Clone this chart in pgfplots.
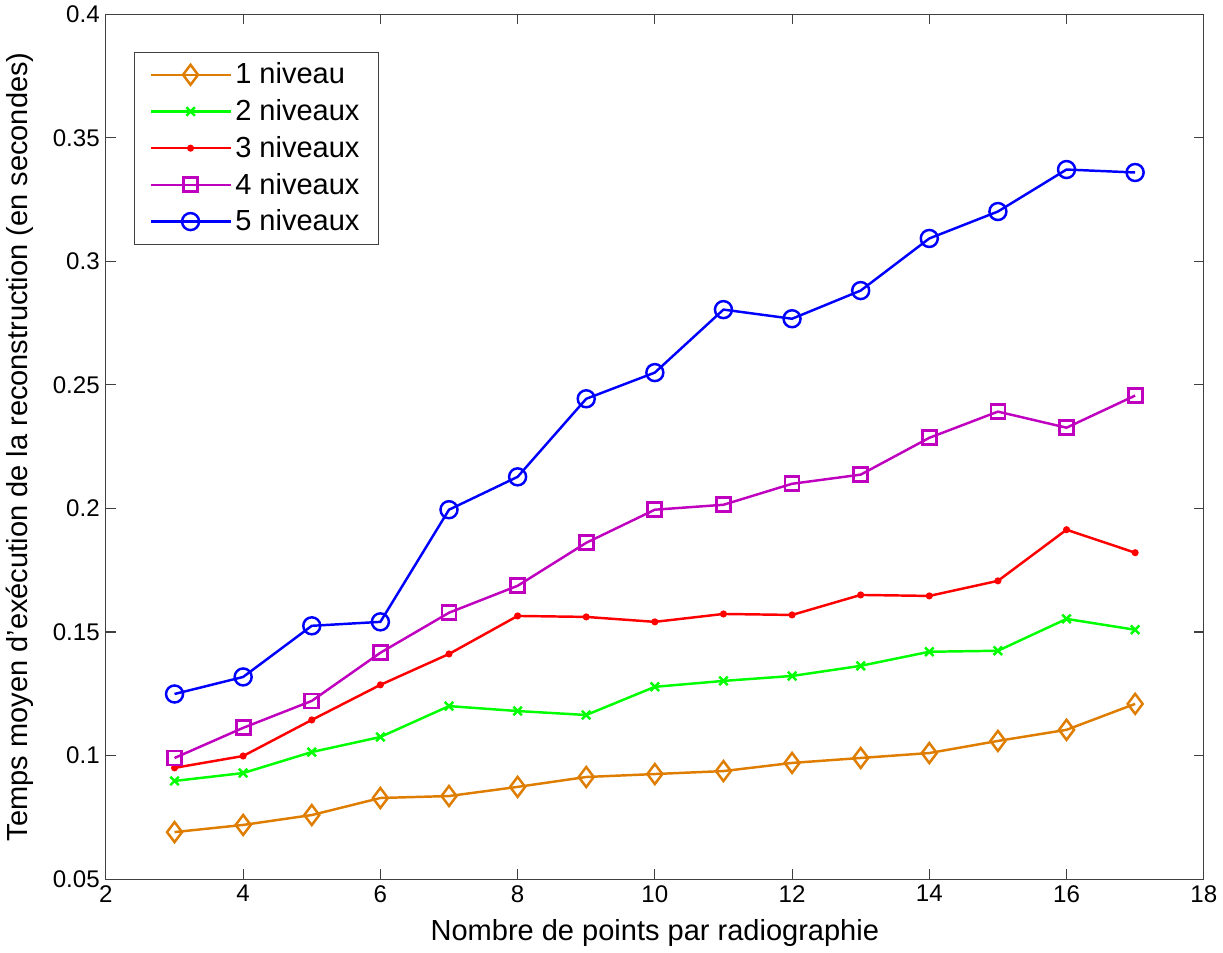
\documentclass[border=0pt]{standalone}
\usepackage{pgfplots}
\pgfplotsset{compat=1.18}
\usepackage{fontspec}
\setmainfont{Liberation Sans}
\definecolor{c1}{RGB}{222,125,0}
\definecolor{c2}{RGB}{0,255,0}
\definecolor{c3}{RGB}{255,0,0}
\definecolor{c4}{RGB}{191,0,191}
\definecolor{c5}{RGB}{0,0,255}
\definecolor{axc}{RGB}{64,64,64}
\begin{document}
\begin{tikzpicture}
\begin{axis}[
  scale only axis,
  width=21.94cm, height=17.28cm,
  xmin=2, xmax=18, ymin=0.05, ymax=0.4,
  xtick={2,4,...,18},
  ytick={0.05,0.1,0.15,0.2,0.25,0.3,0.35,0.4},
  yticklabel style={/pgf/number format/fixed, /pgf/number format/precision=2},
  /pgf/number format/assume math mode=true,
  tick align=inside,
  major tick length=0.2cm,
  axis line style={axc, line width=0.6pt},
  every tick/.style={axc, line width=0.6pt},
  ticklabel style={font=\fontsize{13.7}{15}\selectfont},
  label style={font=\fontsize{16.5}{19}\selectfont},
  xlabel={Nombre de points par radiographie},
  ylabel={Temps moyen d'exécution de la reconstruction (en secondes)},
  xlabel style={yshift=-0.1cm},
  ylabel style={yshift=0.15cm},
  legend style={at={(0.0255,0.957)}, anchor=north west, draw=axc,
    font=\fontsize{16.5}{19}\selectfont, row sep=0.12cm, inner xsep=0.3cm, inner ysep=0.15cm},
  legend cell align=left,
  legend image code/.code={
    \draw[mark repeat=2,mark phase=2,line width=1.4pt,#1] plot coordinates {(0cm,0cm) (0.8cm,0cm) (1.6cm,0cm)};
  },
]
\addplot[c1, line width=1.4pt, mark=diamond, mark size=0.2cm, mark options={solid, line width=1.4pt}] coordinates {
(3,0.0690) (4,0.0719) (5,0.0759) (6,0.0828) (7,0.0836) (8,0.0873) (9,0.0913) (10,0.0925) (11,0.0937) (12,0.0970) (13,0.0990) (14,0.1010) (15,0.1059) (16,0.1104) (17,0.1209)};
\addlegendentry{1 niveau}
\addplot[c2, line width=1.4pt, mark=x, mark size=0.12cm, mark options={solid, line width=1.4pt}] coordinates {
(3,0.0897) (4,0.0929) (5,0.1014) (6,0.1075) (7,0.1200) (8,0.1180) (9,0.1164) (10,0.1278) (11,0.1302) (12,0.1322) (13,0.1363) (14,0.1420) (15,0.1424) (16,0.1553) (17,0.1509)};
\addlegendentry{2 niveaux}
\addplot[c3, line width=1.4pt, mark=*, mark size=0.045cm, mark options={solid}] coordinates {
(3,0.0950) (4,0.0998) (5,0.1144) (6,0.1286) (7,0.1411) (8,0.1565) (9,0.1561) (10,0.1541) (11,0.1573) (12,0.1569) (13,0.1650) (14,0.1646) (15,0.1707) (16,0.1914) (17,0.1821)};
\addlegendentry{3 niveaux}
\addplot[c4, line width=1.4pt, mark=square, mark size=0.14cm, mark options={solid, line width=1.6pt}] coordinates {
(3,0.0990) (4,0.1112) (5,0.1221) (6,0.1416) (7,0.1578) (8,0.1687) (9,0.1861) (10,0.1995) (11,0.2015) (12,0.2100) (13,0.2137) (14,0.2286) (15,0.2392) (16,0.2327) (17,0.2457)};
\addlegendentry{4 niveaux}
\addplot[c5, line width=1.4pt, mark=o, mark size=0.17cm, mark options={solid, line width=1.4pt}] coordinates {
(3,0.1249) (4,0.1318) (5,0.1525) (6,0.1541) (7,0.1995) (8,0.2128) (9,0.2444) (10,0.2550) (11,0.2805) (12,0.2768) (13,0.2882) (14,0.3093) (15,0.3202) (16,0.3372) (17,0.3360)};
\addlegendentry{5 niveaux}
\end{axis}
\end{tikzpicture}
\end{document}
